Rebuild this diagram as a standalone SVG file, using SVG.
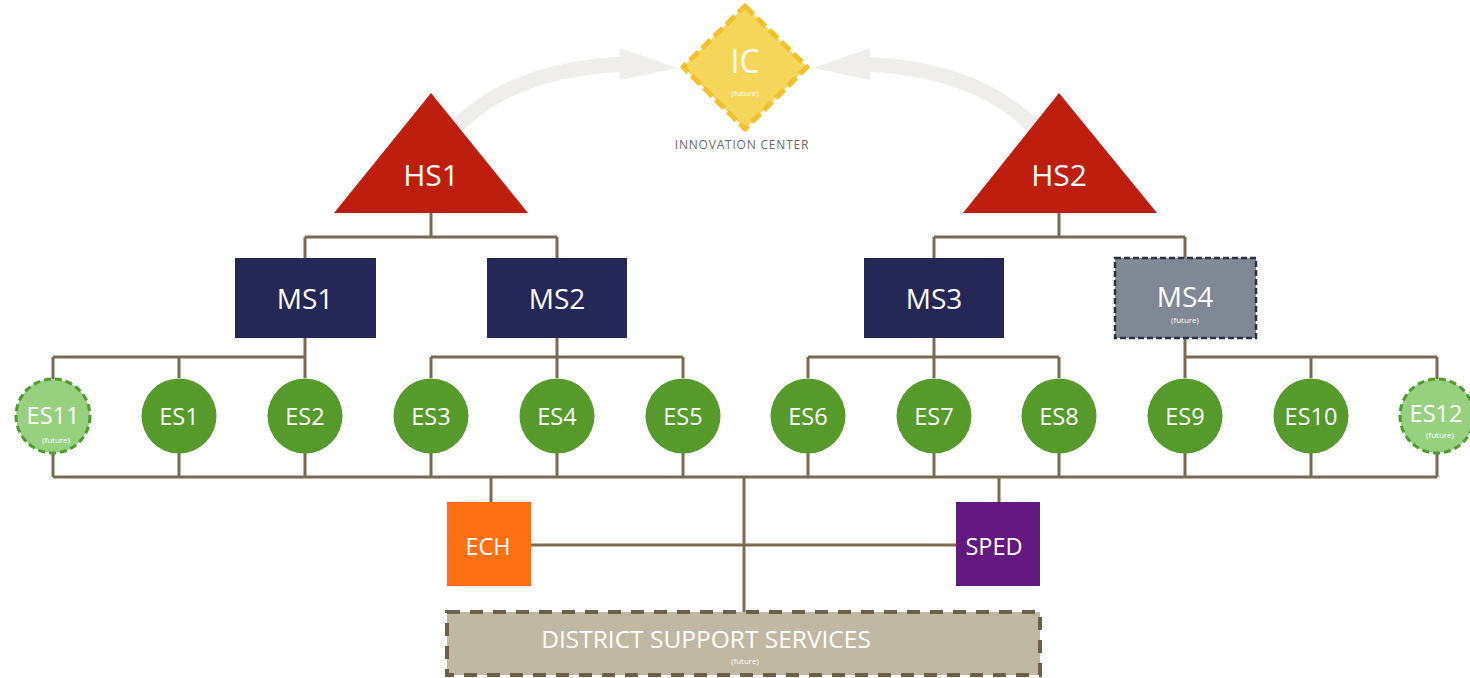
<svg xmlns="http://www.w3.org/2000/svg" width="1470" height="678" viewBox="0 0 1470 678">
<style>
text{font-family:"Open Sans","Liberation Sans",sans-serif;fill:#fff;text-anchor:middle}
.c{stroke:#7A6A52;stroke-width:3;fill:none}
.ms{fill:#252856}
.es{fill:#559A2B}
.esf{fill:#97D17F;stroke:#4E9A2C;stroke-width:3;stroke-dasharray:7 4}
.lbl{font-size:23.5px}
.fut{font-size:8px}
.arc{stroke:#EFEEEC;stroke-width:15;fill:none}
</style>
<rect width="1470" height="678" fill="#fff"/>
<g id="arrows">
<path class="arc" d="M445,140 Q500,70 624,64"/>
<polygon points="620,48 677,68 620,80" fill="#EFEEEC"/>
<path class="arc" d="M1045,140 Q990,70 866,64"/>
<polygon points="870,48 813,68 870,80" fill="#EFEEEC"/>
</g>
<g id="connectors">
<path class="c" d="M431,213V237M305,237H557M305,237V258M557,237V258"/>
<path class="c" d="M1059,213V237M934,237H1185M934,237V258M1185,237V258"/>
<path class="c" d="M305,338V357M53,357H305M557,338V357M431,357H683M934,338V357M808,357H1059M1185,338V357M1185,357H1437"/>
<path class="c" d="M53,357V379M179,357V378M305,357V378M431,357V378M557,357V378M683,357V378M808,357V378M934,357V378M1059,357V378M1185,357V378M1311,357V378M1437,357V379"/>
<path class="c" d="M53,453V477M179,453V477M305,453V477M431,453V477M557,453V477M683,453V477M808,453V477M934,453V477M1059,453V477M1185,453V477M1311,453V477M1437,453V477"/>
<path class="c" d="M53,477H1437"/>
<path class="c" d="M491,477V502M999,477V502M744,477V612M531,545H956"/>
</g>
<g id="IC">
<polygon points="745,6 807,67 745,129 683,67" fill="#F5D55A" stroke="#F2C12E" stroke-width="5" stroke-dasharray="12 5" stroke-linejoin="round"/>
<text x="745" y="73" font-size="32">IC</text>
<text x="745" y="96" class="fut">(future)</text>
<text x="742" y="149" font-size="12" style="fill:#6E6B64;letter-spacing:0.8px">INNOVATION CENTER</text>
</g>
<g id="HS1">
<polygon points="431,93 334,213 528,213" fill="#BE1E0E"/>
<text x="431" y="186" font-size="30">HS1</text>
</g>
<g id="HS2">
<polygon points="1059,93 963,213 1157,213" fill="#BE1E0E"/>
<text x="1059" y="186" font-size="30">HS2</text>
</g>
<g id="MS1"><rect class="ms" x="235" y="258" width="141" height="80"/><text x="305" y="309" font-size="28">MS1</text></g>
<g id="MS2"><rect class="ms" x="487" y="258" width="140" height="80"/><text x="557" y="309" font-size="28">MS2</text></g>
<g id="MS3"><rect class="ms" x="864" y="258" width="140" height="80"/><text x="934" y="309" font-size="28">MS3</text></g>
<g id="MS4"><rect x="1115" y="258" width="141" height="80" fill="#808896" stroke="#2A3346" stroke-width="2.5" stroke-dasharray="6 3"/><text x="1185" y="307" font-size="28">MS4</text><text x="1185" y="323" class="fut">(future)</text></g>
<g id="ES11"><circle class="esf" cx="53" cy="416" r="37"/><text x="53" y="424" class="lbl">ES11</text><text x="56" y="443" class="fut">(future)</text></g>
<g id="ES1"><circle class="es" cx="179" cy="416" r="37.5"/><text x="179" y="425" class="lbl">ES1</text></g>
<g id="ES2"><circle class="es" cx="305" cy="416" r="37.5"/><text x="305" y="425" class="lbl">ES2</text></g>
<g id="ES3"><circle class="es" cx="431" cy="416" r="37.5"/><text x="431" y="425" class="lbl">ES3</text></g>
<g id="ES4"><circle class="es" cx="557" cy="416" r="37.5"/><text x="557" y="425" class="lbl">ES4</text></g>
<g id="ES5"><circle class="es" cx="683" cy="416" r="37.5"/><text x="683" y="425" class="lbl">ES5</text></g>
<g id="ES6"><circle class="es" cx="808" cy="416" r="37.5"/><text x="808" y="425" class="lbl">ES6</text></g>
<g id="ES7"><circle class="es" cx="934" cy="416" r="37.5"/><text x="934" y="425" class="lbl">ES7</text></g>
<g id="ES8"><circle class="es" cx="1059" cy="416" r="37.5"/><text x="1059" y="425" class="lbl">ES8</text></g>
<g id="ES9"><circle class="es" cx="1185" cy="416" r="37.5"/><text x="1185" y="425" class="lbl">ES9</text></g>
<g id="ES10"><circle class="es" cx="1311" cy="416" r="37.5"/><text x="1311" y="425" class="lbl">ES10</text></g>
<g id="ES12"><circle class="esf" cx="1437" cy="416" r="37"/><text x="1436" y="422" class="lbl">ES12</text><text x="1440" y="438" class="fut">(future)</text></g>
<g id="ECH"><rect x="447" y="502" width="84" height="84" fill="#FF7015"/><text x="488" y="555" class="lbl">ECH</text></g>
<g id="SPED"><rect x="956" y="502" width="84" height="84" fill="#62187F"/><text x="994" y="555" class="lbl">SPED</text></g>
<g id="DSS"><rect x="447" y="612" width="593" height="63" fill="#C0B8A3" stroke="#6E5F48" stroke-width="4" stroke-dasharray="13 10"/><text x="706" y="648" font-size="24.5">DISTRICT SUPPORT SERVICES</text><text x="745" y="664" class="fut">(future)</text></g>
</svg>
